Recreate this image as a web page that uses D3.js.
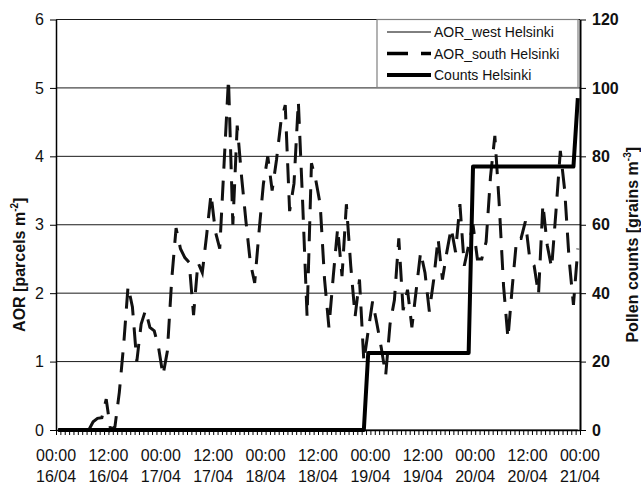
<!DOCTYPE html>
<html>
<head>
<meta charset="utf-8">
<script src="https://cdn.jsdelivr.net/npm/d3@7"></script>
<style>
  body { margin: 0; background: #fff; }
  svg { font-family: "Liberation Sans", Arial, sans-serif; }
  .axis text { font-size: 16px; fill: #111; }
  .axis path, .axis line { stroke: #000; }
</style>
</head>
<body>
<script>
// hourly categories, 16/04 00:00 .. 20/04 23:00
var hourLabels = ['00:00', '12:00', '00:00', '12:00', '00:00', '12:00', '00:00', '12:00', '00:00', '12:00', '00:00'];
var dateLabels = ['16/04', '16/04', '17/04', '17/04', '18/04', '18/04', '19/04', '19/04', '20/04', '20/04', '21/04'];

var aorTicks = [0, 1, 2, 3, 4, 5, 6];
var countTicks = [0, 20, 40, 60, 80, 100, 120];

var seriesNames = ['AOR_west Helsinki', 'AOR_south Helsinki', 'Counts Helsinki'];

// AOR_south, one value per hour
var aorSouth = [
  0, 0, 0, 0, 0, 0, 0, 0, 0.12, 0.17, 0.18, 0.45,
  0, 0.05, 0.55, 1.25, 2.1, 1.8, 1, 1.55, 1.75, 1.5, 1.45, 1.2,
  0.8, 1.15, 2.2, 2.95, 2.65, 2.52, 2.45, 1.68, 2.45, 2.3, 2.85, 3.45,
  2.9, 2.65, 3.9, 5.13, 3, 4.45, 3.7, 3.05, 2.45, 2.15, 2.9, 3.6,
  4, 3.5, 3.95, 4.5, 4.75, 3.2, 3.6, 4.8, 3.3, 1.66, 3.9, 3.65,
  3.3, 2.2, 1.5, 2.25, 2.95, 2.25, 3.3, 2.4, 1.66, 2.2, 1, 1.45,
  1.88, 1.55, 1.2, 0.8, 1.55, 1.9, 2.8, 1.75, 2.05, 1.5, 2.05, 2.6,
  2.3, 1.73, 2.2, 2.8, 2.2, 2.6, 2.95, 2.6, 3.3, 2.4, 2.7, 3,
  2.5, 2.5, 2.75, 3.7, 4.3, 3.3, 2.1, 1.34, 2.1, 2.8, 2.8, 3.05,
  2.5, 2.4, 1.98, 3.3, 2.7, 2.37, 3.2, 4.08, 3.5, 2.5, 1.83, 2.65
];

// AOR_west stays on zero
var aorWest = [[0, 0], [119, 0]];

// pollen counts [hour index, grains m-3]
var countsPoints = [[0, 0], [70, 0], [71, 22.5], [94, 22.5], [95, 77], [118, 77], [119, 97]];

var margin = {top: 19.5, right: 61, bottom: 55, left: 56},
    width = 641 - margin.left - margin.right,
    height = 485 - margin.top - margin.bottom;

var x = d3.scaleLinear().domain([0, 120]).range([0, width]);
var yL = d3.scaleLinear().domain([0, 6]).range([height, 0]);
var yR = d3.scaleLinear().domain([0, 120]).range([height, 0]);

var svg = d3.select('body').append('svg')
    .attr('width', 641)
    .attr('height', 485)
  .append('g')
    .attr('transform', 'translate(' + margin.left + ',' + margin.top + ')');

// gridlines
svg.selectAll('.grid')
    .data(aorTicks.slice(1))
  .enter().append('line')
    .attr('class', 'grid')
    .attr('x1', 0).attr('x2', width)
    .attr('y1', function(d) { return yL(d); })
    .attr('y2', function(d) { return yL(d); })
    .attr('stroke', '#1a1a1a')
    .attr('stroke-width', 1);

var lineSouth = d3.line()
    .x(function(d, i) { return x(i + 0.5); })
    .y(function(d) { return yL(d); });

var linePairs = function(scale) {
  return d3.line()
      .x(function(d) { return x(d[0] + 0.5); })
      .y(function(d) { return scale(d[1]); });
};

svg.append('path')
    .datum(aorWest)
    .attr('d', linePairs(yL))
    .attr('fill', 'none')
    .attr('stroke', '#000')
    .attr('stroke-width', 1);

svg.append('path')
    .datum(aorSouth)
    .attr('d', lineSouth)
    .attr('fill', 'none')
    .attr('stroke', '#111')
    .attr('stroke-width', 3)
    .attr('stroke-dasharray', '20,12');

svg.append('path')
    .datum(countsPoints)
    .attr('d', linePairs(yR))
    .attr('fill', 'none')
    .attr('stroke', '#000')
    .attr('stroke-width', 4)
    .attr('stroke-linejoin', 'round');

// axes
var xAxis = d3.axisBottom(x)
    .tickValues(d3.range(0, 121))
    .tickSize(5)
    .tickSizeOuter(0)
    .tickFormat('');

var gx = svg.append('g')
    .attr('class', 'x axis')
    .attr('transform', 'translate(0,' + height + ')')
    .call(xAxis);
gx.select('.domain').attr('stroke-width', 1.5);

var labels = gx.selectAll('.lbl')
    .data(hourLabels)
  .enter().append('text')
    .attr('class', 'lbl')
    .attr('text-anchor', 'middle')
    .attr('x', function(d, i) { return x(i * 12); });
labels.append('tspan')
    .attr('x', function(d, i) { return x(i * 12); })
    .attr('y', 31)
    .text(function(d) { return d; });
labels.append('tspan')
    .attr('x', function(d, i) { return x(i * 12); })
    .attr('y', 52)
    .text(function(d, i) { return dateLabels[i]; });

var gl = svg.append('g')
    .attr('class', 'y axis')
    .call(d3.axisLeft(yL).tickValues(aorTicks).tickFormat(d3.format('d'))
      .tickSize(6).tickSizeOuter(0).tickPadding(6));
gl.select('.domain').attr('stroke-width', 1.5);

var gr = svg.append('g')
    .attr('class', 'y axis right')
    .attr('transform', 'translate(' + width + ',0)')
    .call(d3.axisRight(yR).tickValues(countTicks).tickFormat(d3.format('d'))
      .tickSize(6).tickSizeOuter(0).tickPadding(6));
gr.select('.domain').attr('stroke-width', 2);
gr.selectAll('text').attr('font-weight', 'bold');

// axis titles
var tl = svg.append('text')
    .attr('transform', 'translate(-31,' + (height / 2 + 40) + ') rotate(-90)')
    .attr('text-anchor', 'middle')
    .attr('font-size', '16px')
    .attr('font-weight', 'bold')
    .attr('fill', '#111');
tl.append('tspan').text('AOR [parcels m');
tl.append('tspan').attr('font-size', '10px').attr('dy', -7).text('-2');
tl.append('tspan').attr('dy', 7).text(']');

var tr = svg.append('text')
    .attr('transform', 'translate(' + (width + 58) + ',' + (height / 2 + 20) + ') rotate(-90)')
    .attr('text-anchor', 'middle')
    .attr('font-size', '16px')
    .attr('font-weight', 'bold')
    .attr('fill', '#111');
tr.append('tspan').text('Pollen counts [grains m');
tr.append('tspan').attr('font-size', '10px').attr('dy', -7).text('-3');
tr.append('tspan').attr('dy', 7).text(']');

// legend
var legend = svg.append('g')
    .attr('transform', 'translate(' + (width - 203) + ',0)');

legend.append('rect')
    .attr('width', 201)
    .attr('height', 68)
    .attr('fill', '#fff')
    .attr('stroke', '#808080')
    .attr('stroke-width', 1.2);

var legendStyles = [
  {w: 1, dash: null},
  {w: 3.5, dash: '21,13'},
  {w: 4, dash: null}
];

seriesNames.forEach(function(name, index) {
  var row = legend.append('g')
      .attr('transform', 'translate(0,' + (12.5 + index * 21.5) + ')');

  row.append('line')
      .attr('x1', 10).attr('x2', 54)
      .attr('stroke', '#000')
      .attr('stroke-width', legendStyles[index].w)
      .attr('stroke-dasharray', legendStyles[index].dash);

  row.append('text')
      .attr('x', 57)
      .attr('y', 5)
      .attr('font-size', '14px')
      .attr('fill', '#111')
      .text(name);
});
</script>
</body>
</html>
